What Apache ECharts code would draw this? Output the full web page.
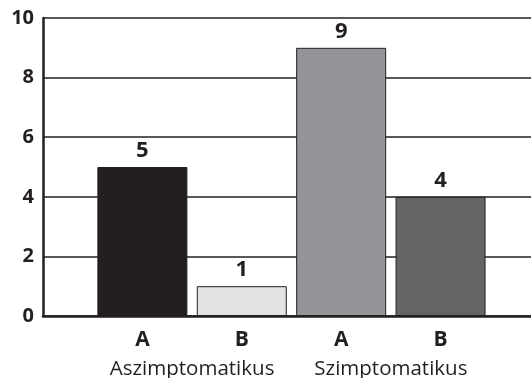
<!DOCTYPE html>
<html>
<head>
<meta charset="utf-8">
<script src="https://cdn.jsdelivr.net/npm/echarts@6/dist/echarts.min.js"></script>
<style>
  html, body { margin: 0; padding: 0; background: #fff; }
  #chart { width: 531px; height: 378px; }
</style>
</head>
<body>
<div id="chart"></div>
<script>
// Case counts per group (A / B) within asymptomatic and symptomatic patients
const categories = ['A', 'B', 'A', 'B'];
const values = [5, 1, 9, 4];
const groups = ['Aszimptomatikus', 'Szimptomatikus'];
const yTicks = { min: 0, max: 10, interval: 2 };

const ink = '#231f20';
const barColors = ['#231f20', '#e1e2e3', '#939598', '#636466'];
const font = '"Open Sans", "Noto Sans", sans-serif';

// Bars sit at slots 1..4 of a linear x scale; slot 0 is the left margin of the plot
const xRange = { min: 0, max: 4.91 };

const chart = echarts.init(document.getElementById('chart'), null, { renderer: 'canvas' });

chart.setOption({
  animation: false,
  backgroundColor: '#ffffff',
  grid: {
    left: 43, right: 0, top: 18, bottom: 62,
    containLabel: false, outerBoundsMode: 'none'
  },
  xAxis: [
    {
      type: 'value',
      min: xRange.min, max: xRange.max, interval: 1,
      position: 'bottom',
      axisLine: { onZero: false, lineStyle: { color: ink, width: 2.5 } },
      axisTick: { show: false },
      splitLine: { show: false },
      axisLabel: {
        showMinLabel: false, showMaxLabel: false, margin: 14,
        color: ink, fontFamily: font, fontWeight: 'bold', fontSize: 21,
        formatter: v => (Number.isInteger(v) && v >= 1 && v <= categories.length) ? categories[v - 1] : ''
      }
    },
    {
      type: 'value',
      min: xRange.min, max: xRange.max, interval: 0.5,
      position: 'bottom',
      offset: 37,
      axisLine: { show: false },
      axisTick: { show: false },
      splitLine: { show: false },
      axisLabel: {
        showMinLabel: false, showMaxLabel: false, margin: 6,
        color: ink, fontFamily: font, fontWeight: 'normal', fontSize: 20.5,
        formatter: v => {
          // group label centred between its two bars (slots 1.5 and 3.5)
          const k = (v - 1.5) / 2;
          return (Number.isInteger(k) && k >= 0 && k < groups.length) ? groups[k] : '';
        }
      }
    }
  ],
  yAxis: {
    type: 'value',
    min: yTicks.min, max: yTicks.max, interval: yTicks.interval,
    axisLine: { show: true, onZero: false, lineStyle: { color: ink, width: 2.5 } },
    axisTick: { show: false },
    axisLabel: {
      margin: 9,
      color: ink, fontFamily: font, fontWeight: 'bold', fontSize: 20
    },
    splitLine: { show: true, lineStyle: { color: ink, width: 1.6 } }
  },
  series: [{
    type: 'bar',
    xAxisIndex: 0,
    data: values.map((v, i) => ({
      value: [i + 1, v],
      itemStyle: { color: barColors[i] }
    })),
    barWidth: 90,
    itemStyle: { borderColor: ink, borderWidth: 1 },
    label: {
      show: true, position: 'top', distance: 5,
      color: ink, fontFamily: font, fontWeight: 'bold', fontSize: 22,
      formatter: p => p.value[1]
    },
    z: 5
  }]
});
</script>
</body>
</html>
